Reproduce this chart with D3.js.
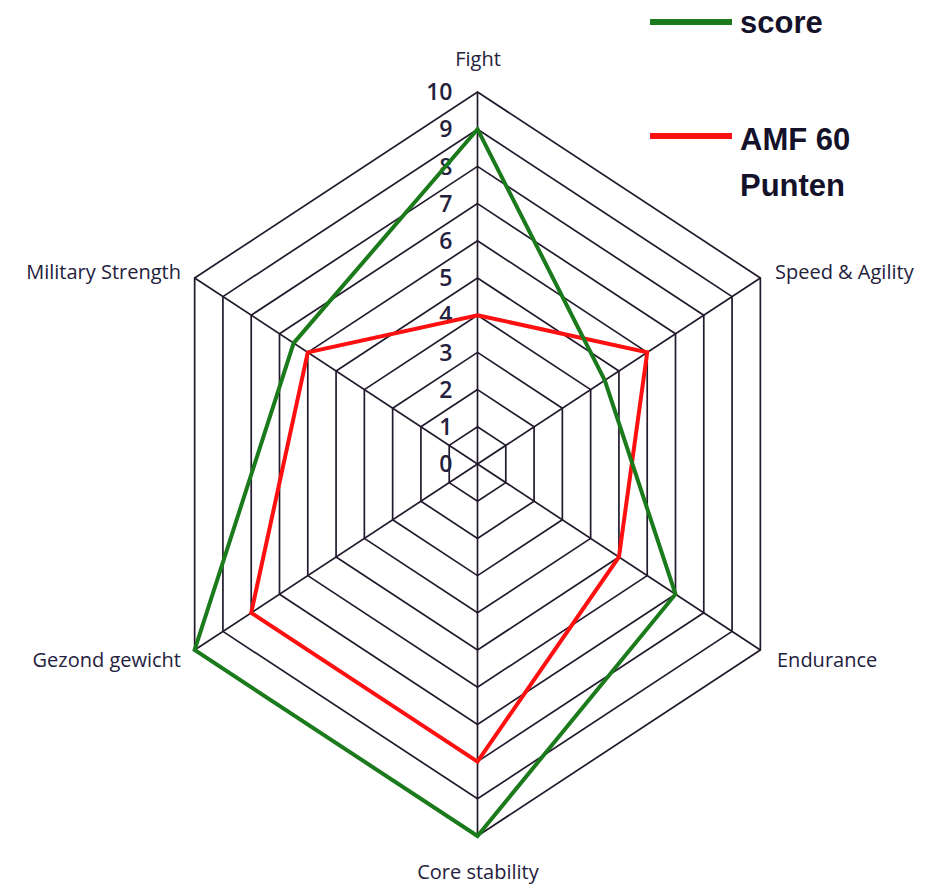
<!DOCTYPE html>
<html>
<head>
<meta charset="utf-8">
<script src="https://d3js.org/d3.v7.min.js"></script>
<style>
  body { margin: 0; background: #fff; }
  .axisLabel { font-family: "Open Sans", sans-serif; font-size: 20px; fill: #23213d; }
  .tickLabel { font-family: "Open Sans", sans-serif; font-size: 23px; font-weight: 600; fill: #23213d; }
  .legendText { font-family: "Liberation Sans", Arial, sans-serif; font-size: 31px; font-weight: bold; fill: #14122a; }
</style>
</head>
<body>
<div id="radar"></div>
<script>
// Data
var categories = ["Fight", "Speed & Agility", "Endurance", "Core stability", "Gezond gewicht", "Military Strength"];
var scoreValues = [9, 4.5, 7, 10, 10, 6.5];
var amfValues = [4, 6, 5, 8, 8, 6];
var tickValues = [0, 1, 2, 3, 4, 5, 6, 7, 8, 9, 10];
var seriesNames = ["score", "AMF 60 Punten"];

var svgWidth = 936;
var svgHeight = 886;

var cx = 477.5;
var cy = 464;
var radius = 372;
// the hexagon is squeezed horizontally in the original
var xSqueeze = 0.878;

var svg = d3.select("#radar")
  .append("svg")
  .attr("width", svgWidth)
  .attr("height", svgHeight);

var rScale = d3.scaleLinear()
  .domain([0, 10])
  .range([0, radius]);

var angleScale = d3.scaleLinear()
  .domain([0, categories.length])
  .range([0, 2 * Math.PI]);

function point(i, v) {
  var a = angleScale(i);
  return [cx + rScale(v) * Math.sin(a) * xSqueeze, cy - rScale(v) * Math.cos(a)];
}

var lineGen = d3.line().curve(d3.curveLinearClosed);

// grid rings
var gridGroup = svg.append("g");
gridGroup.selectAll("path.ring")
  .data(tickValues.filter(d => d > 0))
  .enter()
  .append("path")
  .attr("class", "ring")
  .attr("d", t => lineGen(categories.map((c, i) => point(i, t))))
  .attr("fill", "none")
  .attr("stroke", "#221a2c")
  .attr("stroke-width", 1.7);

// spokes
gridGroup.selectAll("line.spoke")
  .data(categories)
  .enter()
  .append("line")
  .attr("class", "spoke")
  .attr("x1", cx)
  .attr("y1", cy)
  .attr("x2", (d, i) => point(i, 10)[0])
  .attr("y2", (d, i) => point(i, 10)[1])
  .attr("stroke", "#221a2c")
  .attr("stroke-width", 1.7);

// tick labels along the Fight axis
svg.selectAll("text.tickLabel")
  .data(tickValues)
  .enter()
  .append("text")
  .attr("class", "tickLabel")
  .attr("x", cx - 25)
  .attr("y", d => cy - rScale(d))
  .attr("dy", "0.36em")
  .attr("text-anchor", "end")
  .text(d => d);

// series lines
var series = [
  { name: seriesNames[1], values: amfValues, color: "#ff1010" },
  { name: seriesNames[0], values: scoreValues, color: "#1b7a1b" }
];

svg.selectAll("path.series")
  .data(series)
  .enter()
  .append("path")
  .attr("class", "series")
  .attr("d", s => lineGen(s.values.map((v, i) => point(i, v))))
  .attr("fill", "none")
  .attr("stroke", s => s.color)
  .attr("stroke-width", 4)
  .attr("stroke-linejoin", "miter");

// category labels
var labelPos = [
  { x: 478, y: 66, anchor: "middle" },
  { x: 775, y: 279, anchor: "start" },
  { x: 777, y: 667, anchor: "start" },
  { x: 478, y: 879, anchor: "middle" },
  { x: 181, y: 667, anchor: "end" },
  { x: 181, y: 279, anchor: "end" }
];

svg.selectAll("text.axisLabel")
  .data(categories)
  .enter()
  .append("text")
  .attr("class", "axisLabel")
  .attr("x", (d, i) => labelPos[i].x)
  .attr("y", (d, i) => labelPos[i].y)
  .attr("text-anchor", (d, i) => labelPos[i].anchor)
  .text(d => d);

// legend
var legend = svg.append("g");

legend.append("line")
  .attr("x1", 650).attr("x2", 732)
  .attr("y1", 22).attr("y2", 22)
  .attr("stroke", "#1b7a1b")
  .attr("stroke-width", 6);

legend.append("text")
  .attr("class", "legendText")
  .attr("x", 740)
  .attr("y", 33)
  .text(seriesNames[0]);

legend.append("line")
  .attr("x1", 650).attr("x2", 732)
  .attr("y1", 136).attr("y2", 136)
  .attr("stroke", "#ff1010")
  .attr("stroke-width", 6);

var amfWords = seriesNames[1].split(" ");
legend.append("text")
  .attr("class", "legendText")
  .attr("x", 740)
  .attr("y", 150)
  .text(amfWords[0] + " " + amfWords[1]);

legend.append("text")
  .attr("class", "legendText")
  .attr("x", 740)
  .attr("y", 196)
  .text(amfWords[2]);
</script>
</body>
</html>
